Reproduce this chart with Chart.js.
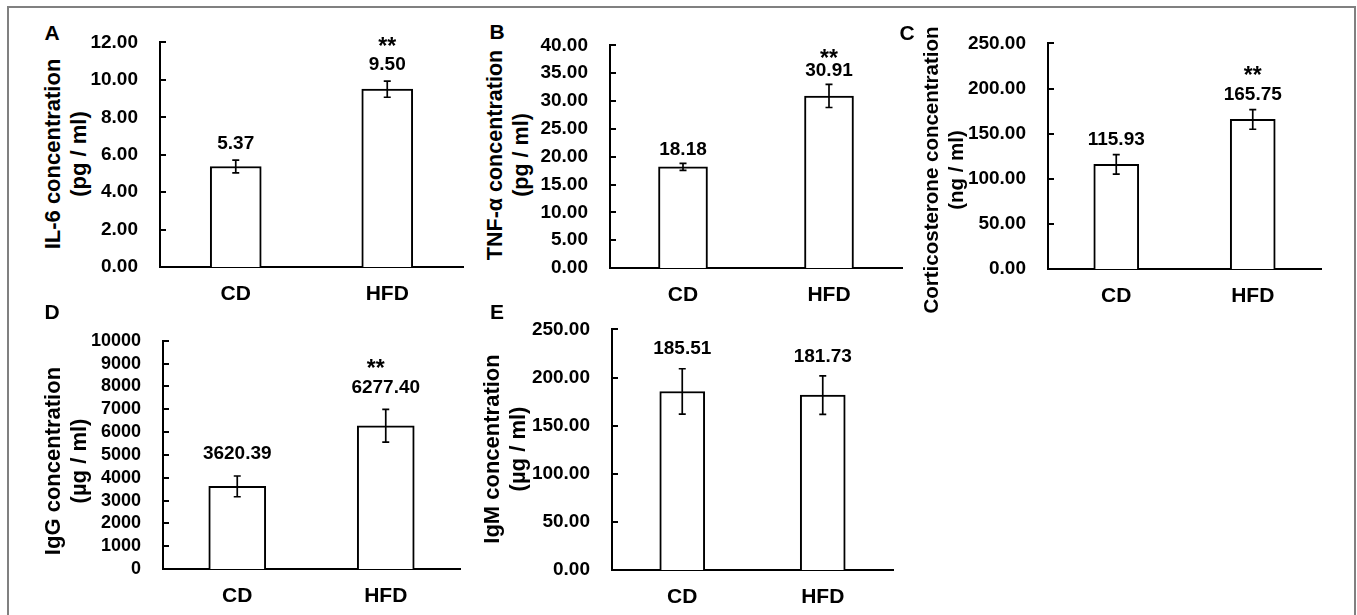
<!DOCTYPE html>
<html>
<head>
<meta charset="utf-8">
<script src="https://cdn.jsdelivr.net/npm/chart.js@4.4.0/dist/chart.umd.min.js"></script>
<style>
body { margin: 0; background: #fff; }
#wrap { position: relative; width: 1357px; height: 615px; overflow: hidden; font-family: "Liberation Sans", Arial, sans-serif; font-weight: bold; color: #000; }
#frame { position: absolute; left: 7px; top: 6px; width: 1349px; height: 700px; border: 2px solid #808080; box-sizing: border-box; }
canvas { position: absolute; }
.letter { position: absolute; font-size: 21px; transform: translate(-50%, -50%); }
.ytitle { position: absolute; line-height: 1.2; text-align: center; white-space: nowrap; transform: translate(-50%, -50%) rotate(-90deg); }
</style>
</head>
<body>
<div id="wrap"><div id="frame"></div></div>
<script>
// groups on the x axis
var categories = ['CD', 'HFD'];

// mean values and error bars
var il6 = [5.37, 9.50];
var il6Err = [0.34, 0.43];
var tnf = [18.18, 30.91];
var tnfErr = [0.62, 2.07];
var cort = [115.93, 165.75];
var cortErr = [10.9, 10.9];
var igg = [3620.39, 6277.40];
var iggErr = [455, 714];
var igm = [185.51, 181.73];
var igmErr = [23.6, 20];

// significance marks per bar
var il6Sig = ['', '**'];
var tnfSig = ['', '**'];
var cortSig = ['', '**'];
var iggSig = ['', '**'];
var igmSig = ['', ''];

// y axis ticks
var il6Ticks = [0, 2, 4, 6, 8, 10, 12];
var tnfTicks = [0, 5, 10, 15, 20, 25, 30, 35, 40];
var cortTicks = [0, 50, 100, 150, 200, 250];
var iggTicks = [0, 1000, 2000, 3000, 4000, 5000, 6000, 7000, 8000, 9000, 10000];
var igmTicks = [0, 50, 100, 150, 200, 250];

var FONT = '"Liberation Sans", Arial, sans-serif';
var AXIS_W = 140, PAD_T = 30, PAD_R = 4, XAXIS_H = 45;

var panels = [
    { letter: 'A', lx: 52, ly: 33, title: ['IL-6 concentration', '(pg / ml)'], tx: 65.5, ty: 154, tsize: 22,
      axisX: 160, right: 463, top: 39, bottom: 267, values: il6, err: il6Err, sig: il6Sig, ticks: il6Ticks, dec: 2,
      bar: 51, tickSize: 19, labelGap: 16, starGap: 20, starShift: 0 },
    { letter: 'B', lx: 497, ly: 32, title: ['TNF-α concentration', '(pg / ml)'], tx: 509, ty: 154.5, tsize: 21.5,
      axisX: 610, right: 902, top: 42, bottom: 268, values: tnf, err: tnfErr, sig: tnfSig, ticks: tnfTicks, dec: 2,
      bar: 49, tickSize: 19, labelGap: 14, starGap: 14, starShift: 0 },
    { letter: 'C', lx: 907, ly: 33, title: ['Corticosterone concentration', '(ng / ml)'], tx: 943.5, ty: 170, tsize: 20.5,
      axisX: 1048, right: 1321, top: 40, bottom: 269, values: cort, err: cortErr, sig: cortSig, ticks: cortTicks, dec: 2,
      bar: 45, tickSize: 19, labelGap: 15, starGap: 21, starShift: 0 },
    { letter: 'D', lx: 52, ly: 312, title: ['IgG concentration', '(µg / ml)'], tx: 66, ty: 461, tsize: 22,
      axisX: 163, right: 460, top: 338, bottom: 569, values: igg, err: iggErr, sig: iggSig, ticks: iggTicks, dec: 0,
      bar: 57, tickSize: 18, labelGap: 22, starGap: 21, starShift: -10 },
    { letter: 'E', lx: 497, ly: 312, title: ['IgM concentration', '(µg / ml)'], tx: 504.5, ty: 449, tsize: 22,
      axisX: 612, right: 893, top: 326, bottom: 570, values: igm, err: igmErr, sig: igmSig, ticks: igmTicks, dec: 2,
      bar: 45, tickSize: 19, labelGap: 19.5, starGap: 21, starShift: 0 }
];

// error bars, value labels, stars and inward tick marks
var decor = {
    id: 'decor',
    afterDatasetsDraw: function (chart) {
        var p = chart.options.plugins.decor;
        var ctx = chart.ctx, xs = chart.scales.x, ys = chart.scales.y;
        var left = chart.chartArea.left;
        ctx.save();
        ctx.strokeStyle = '#000';
        ctx.fillStyle = '#000';
        ctx.lineWidth = 2;
        ys.ticks.forEach(function (t) {
            var py = Math.round(ys.getPixelForValue(t.value));
            ctx.beginPath();
            ctx.moveTo(left, py);
            ctx.lineTo(left + 6, py);
            ctx.stroke();
        });
        ctx.lineWidth = 1.7;
        p.values.forEach(function (v, i) {
            var cx = xs.getPixelForValue(i);
            var top = ys.getPixelForValue(v + p.err[i]);
            var bot = ys.getPixelForValue(v - p.err[i]);
            ctx.beginPath();
            ctx.moveTo(cx, top); ctx.lineTo(cx, bot);
            ctx.moveTo(cx - 3.5, top); ctx.lineTo(cx + 3.5, top);
            ctx.moveTo(cx - 3.5, bot); ctx.lineTo(cx + 3.5, bot);
            ctx.stroke();
            ctx.textAlign = 'center';
            ctx.textBaseline = 'middle';
            var ly = top - p.labelGap;
            ctx.font = 'bold 19px ' + FONT;
            ctx.fillText(v.toFixed(2), cx, ly);
            if (p.sig[i]) {
                ctx.font = 'bold 23px ' + FONT;
                ctx.fillText(p.sig[i], cx + p.starShift, ly - p.starGap + 3);
            }
        });
        ctx.restore();
    }
};

var wrap = document.getElementById('wrap');

panels.forEach(function (p) {
    var letter = document.createElement('div');
    letter.className = 'letter';
    letter.style.left = p.lx + 'px';
    letter.style.top = p.ly + 'px';
    letter.textContent = p.letter;
    wrap.appendChild(letter);

    var t = document.createElement('div');
    t.className = 'ytitle';
    t.style.left = p.tx + 'px';
    t.style.top = p.ty + 'px';
    t.style.fontSize = p.tsize + 'px';
    t.innerHTML = p.title[0] + '<br>' + p.title[1];
    wrap.appendChild(t);

    var cv = document.createElement('canvas');
    var cl = p.axisX - AXIS_W, ct = p.top - PAD_T;
    var w = p.right - cl + PAD_R, h = p.bottom - ct + XAXIS_H;
    cv.width = w; cv.height = h;
    cv.style.left = cl + 'px';
    cv.style.top = ct + 'px';
    cv.style.width = w + 'px';
    cv.style.height = h + 'px';
    wrap.appendChild(cv);

    new Chart(cv.getContext('2d'), {
        type: 'bar',
        data: {
            labels: categories,
            datasets: [{
                data: p.values,
                backgroundColor: '#ffffff',
                borderColor: '#000000',
                borderWidth: 2,
                barThickness: p.bar
            }]
        },
        options: {
            responsive: false,
            animation: false,
            events: [],
            layout: { padding: { top: PAD_T, right: PAD_R, left: 0, bottom: 0 } },
            plugins: {
                legend: { display: false },
                tooltip: { enabled: false },
                decor: p
            },
            scales: {
                x: {
                    grid: { display: false, drawTicks: false },
                    border: { display: true, color: '#000', width: 2 },
                    ticks: { color: '#000', padding: 15, font: { family: FONT, size: 21, weight: 'bold' } },
                    afterFit: function (s) { s.height = XAXIS_H; }
                },
                y: {
                    min: p.ticks[0],
                    max: p.ticks[p.ticks.length - 1],
                    grid: { display: false, drawTicks: false },
                    border: { display: true, color: '#000', width: 2 },
                    ticks: {
                        color: '#000', padding: 22, autoSkip: false,
                        font: { family: FONT, size: p.tickSize, weight: 'bold' },
                        callback: function (v) { return Number(v).toFixed(p.dec); }
                    },
                    afterBuildTicks: function (s) { s.ticks = p.ticks.map(function (v) { return { value: v }; }); },
                    afterFit: function (s) { s.width = AXIS_W; }
                }
            }
        },
        plugins: [decor]
    });
});
</script>
</body>
</html>
